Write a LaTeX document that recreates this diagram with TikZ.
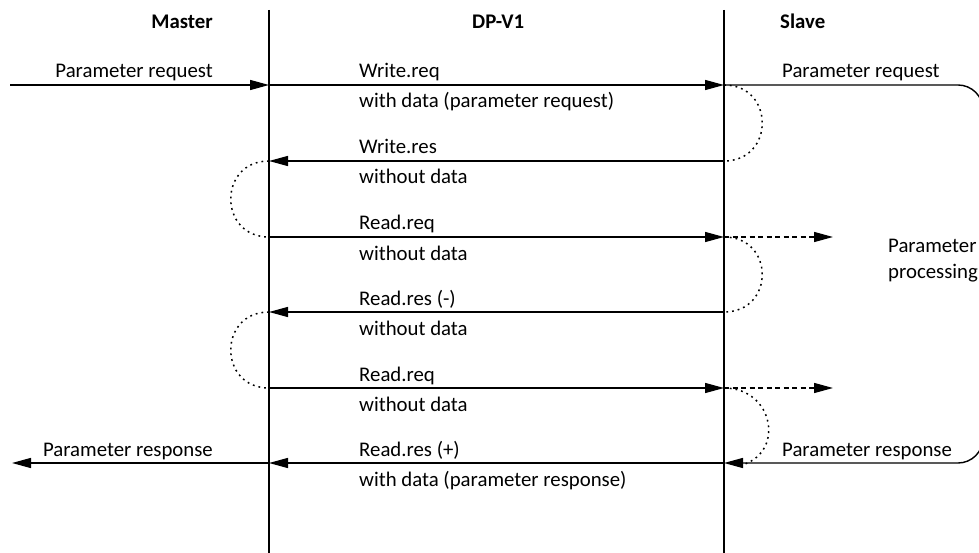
\documentclass[tikz,border=0pt]{standalone}
\usepackage{fontspec}
\setmainfont{Carlito}
\usetikzlibrary{arrows.meta}
\tikzset{
  lbl/.style={inner sep=0pt, font=\fontsize{20.8}{25}\selectfont},
  hdr/.style={lbl, font=\fontsize{20.8}{25}\selectfont\bfseries},
  life/.style={line width=1.4pt},
  msg/.style={line width=1.4pt, -{Triangle[length=19pt,width=10pt]}},
  dmsg/.style={msg, dash pattern=on 5pt off 3.5pt},
  loopline/.style={line width=1.5pt, dash pattern=on 1.8pt off 4pt},
}
\begin{document}
\begin{tikzpicture}[x=1pt,y=-1pt]
\useasboundingbox (0,0) rectangle (979,553);
\clip (0,0) rectangle (979,553);
% lifelines
\coordinate (mtop) at (269,10); \coordinate (mbot) at (269,553);
\coordinate (stop) at (724,10); \coordinate (sbot) at (724,553);
\draw[life] (mtop) -- (mbot);
\draw[life] (stop) -- (sbot);
% headers
\node[hdr, anchor=base east] (hM) at (213,29) {Master};
\node[hdr, anchor=base west] (hD) at (472,29) {DP-V1};
\node[hdr, anchor=base west] (hS) at (780,29) {Slave};
% message points
\coordinate (lin) at (10,85);
\coordinate (lout) at (12,463);
\foreach \n/\y in {1/85,2/161,3/237,4/312,5/388,6/463}{
  \coordinate (m\n) at (269,\y);
  \coordinate (s\n) at (724,\y);
}
\coordinate (d1) at (833,237);
\coordinate (d2) at (833,388);
\coordinate (rr) at (983,274);
% messages
\draw[msg] (lin) -- (m1);
\draw[msg] (m1) -- (s1);
\draw[msg] (s2) -- (m2);
\draw[msg] (m3) -- (s3);
\draw[msg] (s4) -- (m4);
\draw[msg] (m5) -- (s5);
\draw[msg] (s6) -- (m6);
\draw[msg] (m6) -- (lout);
\draw[dmsg] (s3) -- (d1);
\draw[dmsg] (s5) -- (d2);
% slave processing loop
\draw[msg, rounded corners=25pt] (s1) -| (rr) |- (s6);
% dotted turn-arounds
\draw[loopline] (s1) .. controls +(51,0) and +(51,0) .. (s2);
\draw[loopline] (m2) .. controls +(-51,0) and +(-51,0) .. (m3);
\draw[loopline] (s3) .. controls +(51,0) and +(51,0) .. (s4);
\draw[loopline] (m4) .. controls +(-51,0) and +(-51,0) .. (m5);
\draw[loopline] (s5) .. controls +(51,0) and +(48,-10) .. ([xshift=14pt,yshift=-3pt]s6);
% outer labels
\node[lbl, anchor=base east] (tLreq) at (213,78) {Parameter request};
\node[lbl, anchor=base east] (tLres) at (213,456) {Parameter response};
\node[lbl, anchor=base west] (tRreq) at (782,78) {Parameter request};
\node[lbl, anchor=base west] (tRres) at (782,456) {Parameter response};
\node[lbl, anchor=base west, align=left] (tProc) at (888,278) {Parameter\\processing};
% DP-V1 labels
\node[lbl, anchor=base west] (a1) at (359,78) {Write.req};
\node[lbl, anchor=base west] (b1) at (359,108) {with data (parameter request)};
\node[lbl, anchor=base west] (a2) at (359,154) {Write.res};
\node[lbl, anchor=base west] (b2) at (359,184) {without data};
\node[lbl, anchor=base west] (a3) at (359,230) {Read.req};
\node[lbl, anchor=base west] (b3) at (359,260) {without data};
\node[lbl, anchor=base west] (a4) at (359,305) {Read.res (-)};
\node[lbl, anchor=base west] (b4) at (359,335) {without data};
\node[lbl, anchor=base west] (a5) at (359,381) {Read.req};
\node[lbl, anchor=base west] (b5) at (359,411) {without data};
\node[lbl, anchor=base west] (a6) at (359,456) {Read.res (+)};
\node[lbl, anchor=base west] (b6) at (359,486) {with data (parameter response)};
\end{tikzpicture}
\end{document}
